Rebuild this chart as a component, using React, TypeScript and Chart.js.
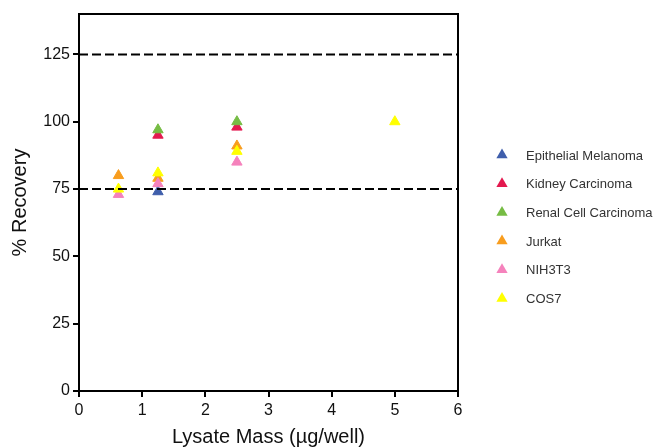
import React, { useEffect, useRef } from "react";
import { Chart, registerables } from "chart.js";

Chart.register(...registerables);

const seriesNames = ["Epithelial Melanoma", "Kidney Carcinoma", "Renal Cell Carcinoma", "Jurkat", "NIH3T3", "COS7"];
const seriesColors = ["#3F5EAB", "#E3194F", "#76BC44", "#F89D1E", "#F582BC", "#FFFF00"];

const epithelialX = [1.25];
const epithelialY = [74];
const kidneyX = [1.25, 2.5];
const kidneyY = [95, 98];
const renalX = [1.25, 2.5];
const renalY = [97, 100];
const jurkatX = [0.625, 1.25, 2.5];
const jurkatY = [80, 79, 91];
const nih3t3X = [0.625, 1.25, 2.5];
const nih3t3Y = [73, 77, 85];
const cos7X = [0.625, 1.25, 2.5, 5];
const cos7Y = [75, 81, 89, 100];

const limitLines = [75, 125];
const xTicks = [0, 1, 2, 3, 4, 5, 6];
const yTicks = [0, 25, 50, 75, 100, 125];

const FONT = "'Liberation Sans', Arial, sans-serif";

const seriesX = [epithelialX, kidneyX, renalX, jurkatX, nih3t3X, cos7X];
const seriesY = [epithelialY, kidneyY, renalY, jurkatY, nih3t3Y, cos7Y];

const framePlugin = {
  id: "frame",
  afterDraw(chart: any) {
    const { ctx, chartArea } = chart;
    ctx.save();
    ctx.strokeStyle = "#000";
    ctx.lineWidth = 2;
    ctx.strokeRect(chartArea.left, chartArea.top, chartArea.right - chartArea.left, chartArea.bottom - chartArea.top);
    ctx.restore();
  },
};

const legendPlugin = {
  id: "customLegend",
  afterDraw(chart: any) {
    const { ctx, chartArea } = chart;
    ctx.save();
    const startY = 155;
    const step = 28.7;
    const markerX = chartArea.right + 44;
    const textX = chartArea.right + 68;
    ctx.font = `13px ${FONT}`;
    ctx.textBaseline = "middle";
    ctx.textAlign = "left";
    chart.data.datasets.forEach((ds: any) => {
      if (!ds.isSeries) return;
      const y = startY + ds.legendIndex * step;
      const r = 6.5;
      ctx.beginPath();
      ctx.moveTo(markerX, y - r);
      ctx.lineTo(markerX + r * Math.sin((2 * Math.PI) / 3), y + r / 2);
      ctx.lineTo(markerX - r * Math.sin((2 * Math.PI) / 3), y + r / 2);
      ctx.closePath();
      ctx.fillStyle = ds.backgroundColor;
      ctx.fill();
      ctx.fillStyle = "#333";
      ctx.fillText(ds.label, textX, y + 1);
    });
    ctx.restore();
  },
};

export default function App() {
  const ref = useRef<HTMLCanvasElement>(null);

  useEffect(() => {
    document.body.style.margin = "0";
    const datasets: any[] = [];
    limitLines.forEach((v) => {
      datasets.push({
        type: "line",
        label: "limit" + v,
        data: [
          { x: 0, y: v },
          { x: 6, y: v },
        ],
        borderColor: "#000",
        borderWidth: 2,
        borderDash: [9, 4],
        pointRadius: 0,
        order: -1,
        isSeries: false,
      });
    });
    seriesNames.forEach((name, i) => {
      datasets.push({
        type: "scatter",
        label: name,
        data: seriesX[i].map((x, j) => ({ x, y: seriesY[i][j] })),
        backgroundColor: seriesColors[i],
        borderColor: seriesColors[i],
        borderWidth: 1,
        pointStyle: "triangle",
        pointRadius: 6,
        order: seriesNames.length - i,
        isSeries: true,
        legendIndex: i,
      });
    });

    const chart = new Chart(ref.current!, {
      type: "scatter",
      data: { datasets },
      options: {
        animation: false,
        responsive: false,
        layout: { padding: { top: 14, right: 196, left: 0, bottom: 0 } },
        plugins: { legend: { display: false }, tooltip: { enabled: false } },
        scales: {
          x: {
            type: "linear",
            min: 0,
            max: 6,
            afterBuildTicks: (axis: any) => {
              axis.ticks = xTicks.map((v) => ({ value: v }));
            },
            afterFit: (axis: any) => {
              axis.height = 57;
            },
            grid: { display: true, drawOnChartArea: false, drawTicks: true, tickLength: 6, color: "#000", lineWidth: 2 },
            border: { display: true, color: "#000", width: 2 },
            ticks: { color: "#111", font: { family: FONT, size: 16 }, padding: 4, maxRotation: 0 },
            title: { display: true, text: "Lysate Mass (µg/well)", color: "#111", font: { family: FONT, size: 20 }, padding: { top: 0, bottom: -1 } },
          },
          y: {
            type: "linear",
            min: 0,
            max: 140,
            afterBuildTicks: (axis: any) => {
              axis.ticks = yTicks.map((v) => ({ value: v }));
            },
            afterFit: (axis: any) => {
              axis.width = 79;
            },
            grid: { display: true, drawOnChartArea: false, drawTicks: true, tickLength: 6, color: "#000", lineWidth: 2 },
            border: { display: true, color: "#000", width: 2 },
            ticks: { color: "#111", font: { family: FONT, size: 16 }, padding: 3 },
            title: { display: true, text: "% Recovery", color: "#111", font: { family: FONT, size: 20 }, padding: { top: 8, bottom: 0 } },
          },
        },
      } as any,
      plugins: [framePlugin, legendPlugin],
    });
    return () => chart.destroy();
  }, []);

  return (
    <div style={{ position: "fixed", left: 0, top: 0, width: 654, height: 448, background: "#fff" }}>
      <canvas ref={ref} width={654} height={448} style={{ width: 654, height: 448, display: "block" }} />
    </div>
  );
}
